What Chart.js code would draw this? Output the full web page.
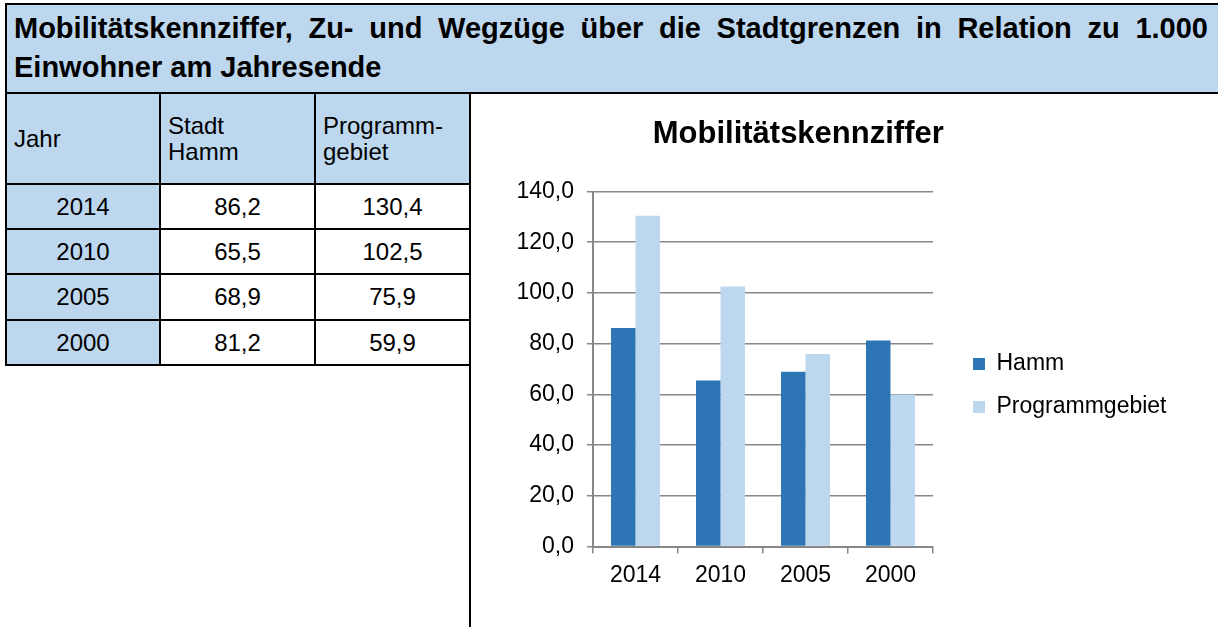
<!DOCTYPE html>
<html lang="de">
<head>
<meta charset="utf-8">
<title>Mobilitätskennziffer</title>
<script src="https://cdn.jsdelivr.net/npm/chart.js@4.4.1/dist/chart.umd.min.js"></script>
<style>
  html, body {
    margin: 0;
    padding: 0;
    width: 1218px;
    height: 627px;
    overflow: hidden;
    background: #fff;
    color: #000;
    font-family: "Liberation Sans", Arial, sans-serif;
  }
  .page-head {
    position: absolute;
    left: 5px;
    top: 3px;
    width: 1240px;
    height: 87px;
    border: 2px solid #000;
    background: #bdd7ee;
  }
  .page-head__line {
    position: absolute;
    left: 7px;
    width: 1194px;
    font-size: 29px;
    font-weight: bold;
    line-height: 40px;
    white-space: nowrap;
  }
  .page-head__line--first {
    top: 3px;
    text-align: justify;
    text-align-last: justify;
  }
  .page-head__line--second {
    top: 42px;
  }
  .data-table {
    position: absolute;
    left: 5px;
    top: 92px;
    border-collapse: collapse;
    table-layout: fixed;
    font-size: 24px;
  }
  .data-table td {
    border: 2px solid #000;
    padding: 0;
    vertical-align: middle;
    text-align: center;
    background: #fff;
  }
  .data-table td.is-blue {
    background: #bdd7ee;
  }
  .data-table thead td {
    text-align: left;
    padding-left: 7px;
    line-height: 26px;
  }
  .divider {
    position: absolute;
    left: 469px;
    top: 92px;
    width: 2px;
    height: 540px;
    background: #000;
  }
  .chart-box {
    position: absolute;
    left: 420px;
    top: 95px;
    width: 798px;
    height: 581px;
  }
</style>
</head>
<body>
<div class="page-head">
  <div class="page-head__line page-head__line--first" id="head-line-1"></div>
  <div class="page-head__line page-head__line--second" id="head-line-2"></div>
</div>
<table class="data-table" id="data-table">
  <colgroup>
    <col style="width:154px">
    <col style="width:155px">
    <col style="width:155px">
  </colgroup>
  <thead></thead>
  <tbody></tbody>
</table>
<div class="divider"></div>
<div class="chart-box">
  <canvas id="mobility-chart"></canvas>
</div>
<script>
(function () {
  var HEAD_LINE_1 = 'Mobilitätskennziffer, Zu- und Wegzüge über die Stadtgrenzen in Relation zu 1.000';
  var HEAD_LINE_2 = 'Einwohner am Jahresende';
  var CHART_TITLE = 'Mobilitätskennziffer';

  var TABLE_HEAD = [['Jahr'], ['Stadt', 'Hamm'], ['Programm-', 'gebiet']];
  var YEARS = ['2014', '2010', '2005', '2000'];
  var HAMM = [86.2, 65.5, 68.9, 81.2];
  var PROGRAMM = [130.4, 102.5, 75.9, 59.9];
  var SERIES_NAMES = ['Hamm', 'Programmgebiet'];

  var Y_MIN = 0;
  var Y_MAX = 140;
  var Y_STEP = 20;

  var DARK_BLUE = '#2e75b6';
  var LIGHT_BLUE = '#bdd7ee';
  var GRID_GREY = '#878787';
  var ROW_HEIGHTS = [91, 45, 45, 46, 45];

  function $(selector) {
    return document.querySelector(selector);
  }

  function formatDecimal(value) {
    return Number(value).toFixed(1).replace('.', ',');
  }

  function renderHead() {
    $('#head-line-1').textContent = HEAD_LINE_1;
    $('#head-line-2').textContent = HEAD_LINE_2;
  }

  function renderTable() {
    var thead = $('#data-table thead');
    var tbody = $('#data-table tbody');

    var headRow = document.createElement('tr');
    headRow.style.height = ROW_HEIGHTS[0] + 'px';
    TABLE_HEAD.forEach(function (lines) {
      var cell = document.createElement('td');
      cell.className = 'is-blue';
      lines.forEach(function (line, i) {
        if (i > 0) cell.appendChild(document.createElement('br'));
        cell.appendChild(document.createTextNode(line));
      });
      headRow.appendChild(cell);
    });
    thead.appendChild(headRow);

    YEARS.forEach(function (year, i) {
      var row = document.createElement('tr');
      row.style.height = ROW_HEIGHTS[i + 1] + 'px';

      var yearCell = document.createElement('td');
      yearCell.className = 'is-blue';
      yearCell.textContent = year;

      var hammCell = document.createElement('td');
      hammCell.textContent = formatDecimal(HAMM[i]);

      var progCell = document.createElement('td');
      progCell.textContent = formatDecimal(PROGRAMM[i]);

      [yearCell, hammCell, progCell].forEach(function (cell) {
        row.appendChild(cell);
      });
      tbody.appendChild(row);
    });
  }

  function initChart() {
    Chart.defaults.font.family = '"Liberation Sans", Arial, sans-serif';
    Chart.defaults.color = '#000';

    new Chart($('#mobility-chart'), {
      type: 'bar',
      data: {
        labels: YEARS,
        datasets: [
          {
            label: SERIES_NAMES[0],
            data: HAMM,
            backgroundColor: DARK_BLUE,
            borderWidth: 0,
            categoryPercentage: 0.576,
            barPercentage: 1.0
          },
          {
            label: SERIES_NAMES[1],
            data: PROGRAMM,
            backgroundColor: LIGHT_BLUE,
            borderWidth: 0,
            categoryPercentage: 0.576,
            barPercentage: 1.0
          }
        ]
      },
      options: {
        responsive: true,
        maintainAspectRatio: false,
        animation: false,
        layout: {
          padding: { left: 0, right: 41.5, top: 0, bottom: 0 }
        },
        scales: {
          x: {
            grid: {
              display: true,
              drawOnChartArea: false,
              drawTicks: true,
              tickLength: 7,
              color: GRID_GREY,
              lineWidth: 1.5
            },
            border: { display: true, color: GRID_GREY, width: 2 },
            ticks: {
              padding: 8,
              font: { size: 23 },
              color: '#000'
            },
            afterFit: function (scale) {
              scale.height = 129.5;
            }
          },
          y: {
            min: Y_MIN,
            max: Y_MAX,
            grid: {
              color: GRID_GREY,
              lineWidth: 1.5,
              tickLength: 6
            },
            border: { display: true, color: GRID_GREY, width: 2 },
            ticks: {
              stepSize: Y_STEP,
              padding: 13,
              font: { size: 23 },
              color: '#000',
              callback: function (value) {
                return formatDecimal(value);
              }
            },
            afterFit: function (scale) {
              scale.width = 173;
            }
          },
          gap: {
            type: 'linear',
            position: 'right',
            display: true,
            grid: { display: false, drawOnChartArea: false },
            border: { display: false },
            ticks: { display: false },
            afterFit: function (scale) {
              scale.width = 20;
            }
          }
        },
        plugins: {
          title: {
            display: true,
            text: CHART_TITLE,
            font: { size: 31, weight: 'bold' },
            color: '#000',
            padding: { top: 20.4, bottom: 38.9 }
          },
          legend: {
            display: true,
            position: 'right',
            maxWidth: 300,
            labels: {
              boxWidth: 12,
              boxHeight: 12,
              padding: 20,
              font: { size: 23 },
              color: '#000'
            }
          },
          tooltip: { enabled: false }
        }
      }
    });
  }

  renderHead();
  renderTable();
  initChart();
})();
</script>
</body>
</html>
